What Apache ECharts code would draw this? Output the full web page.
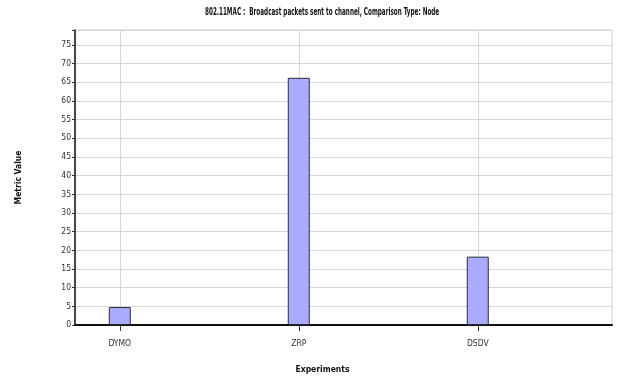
<!DOCTYPE html>
<html>
<head>
<meta charset="utf-8">
<script src="https://cdn.jsdelivr.net/npm/echarts@6/dist/echarts.min.js"></script>
<style>
  html, body { margin: 0; padding: 0; background: #fff; }
  #chart { width: 617px; height: 380px; }
</style>
</head>
<body>
<div id="chart"></div>
<script>
// Broadcast packets sent to channel, one bar per routing protocol
const categories = ['DYMO', 'ZRP', 'DSDV'];
const metricValues = [4.8, 66.2, 18.3];
const yTicks = [0, 5, 10, 15, 20, 25, 30, 35, 40, 45, 50, 55, 60, 65, 70, 75];
const chartTitle = '802.11MAC :  Broadcast packets sent to channel, Comparison Type: Node';

const FONT = '"DejaVu Sans Condensed", "Liberation Sans Narrow", "Liberation Sans", Arial, sans-serif';
const positions = categories.map((c, i) => i);

const chart = echarts.init(document.getElementById('chart'), null, { renderer: 'canvas' });

chart.setOption({
  animation: false,
  backgroundColor: '#ffffff',
  graphic: [{
    type: 'text',
    left: 205,
    top: 7,
    scaleX: 0.63,
    style: {
      text: chartTitle,
      font: 'bold 10px ' + FONT,
      fill: '#111'
    }
  }],
  grid: {
    left: 75, right: 5, top: 30, bottom: 55,
    show: true, borderColor: '#cfcfcf', borderWidth: 1, backgroundColor: '#ffffff'
  },
  xAxis: {
    type: 'value',
    min: -0.25,
    max: 2.75,
    name: 'Experiments',
    nameLocation: 'middle',
    nameGap: 40,
    nameTextStyle: { fontFamily: FONT, fontSize: 8.5, fontWeight: 'bold', color: '#111', padding: [0, 42, 0, 0] },
    axisLine: { show: true, onZero: false, lineStyle: { color: '#111', width: 2 } },
    axisTick: { show: true, customValues: positions, length: 6, lineStyle: { color: '#333', width: 1 } },
    axisLabel: {
      customValues: positions,
      formatter: v => categories[Math.round(v)] || '',
      fontFamily: FONT, fontSize: 8.5, color: '#333', margin: 14
    },
    splitLine: { show: false }
  },
  yAxis: {
    type: 'value',
    min: 0,
    max: 79,
    interval: 5,
    name: 'Metric Value',
    nameLocation: 'middle',
    nameGap: 52,
    nameTextStyle: { fontFamily: FONT, fontSize: 8.5, fontWeight: 'bold', color: '#111' },
    axisLine: { show: true, onZero: false, lineStyle: { color: '#111', width: 1.5 } },
    axisTick: { show: true, length: 3, lineStyle: { color: '#333' } },
    axisLabel: {
      formatter: v => (yTicks.indexOf(v) >= 0 ? String(v) : ''),
      fontFamily: FONT, fontSize: 8.5, color: '#333', margin: 4
    },
    splitLine: { show: true, lineStyle: { color: '#d6d6d6', width: 1 } }
  },
  series: [{
    type: 'bar',
    data: metricValues.map((v, i) => [positions[i], v]),
    barWidth: 22,
    itemStyle: { color: '#aaaaff', borderColor: '#2a2a40', borderWidth: 1 },
    markLine: {
      silent: true,
      symbol: 'none',
      z: 0,
      label: { show: false },
      lineStyle: { color: '#d6d6d6', type: 'solid', width: 1 },
      data: positions.map(p => ({ xAxis: p }))
    }
  }]
});
</script>
</body>
</html>
